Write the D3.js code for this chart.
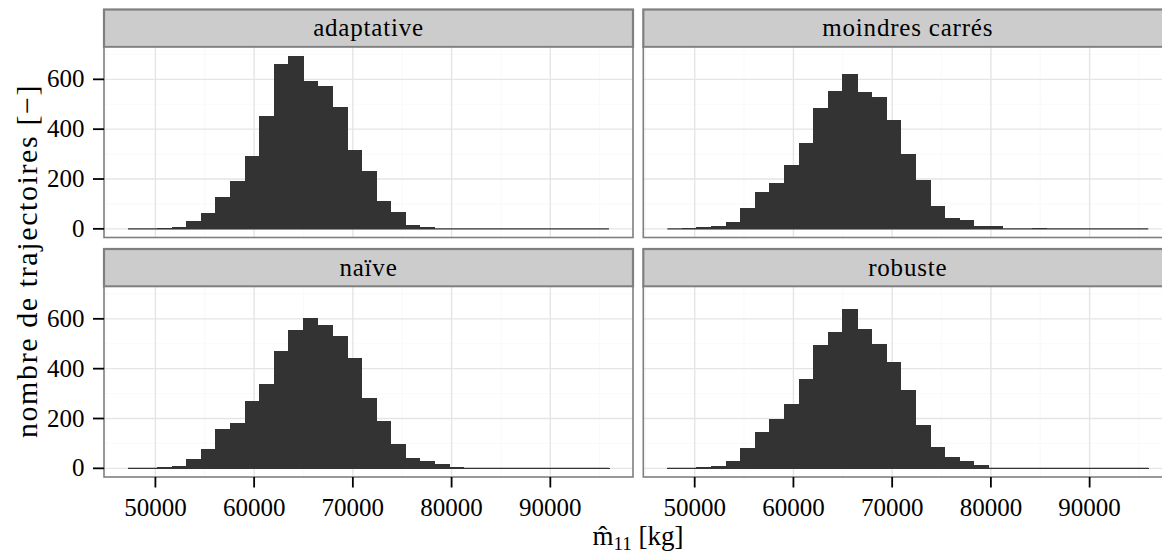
<!DOCTYPE html>
<html>
<head>
<meta charset="utf-8">
<script src="https://cdn.jsdelivr.net/npm/d3@7"></script>
<style>
  html, body { margin: 0; padding: 0; background: #fff; }
  svg { display: block; }
  text { font-family: "Liberation Serif", "DejaVu Serif", serif; fill: #000; }
</style>
</head>
<body>
<svg id="chart" width="1162" height="553"></svg>
<script>
// ---- data ----
const facets = ["adaptative", "moindres carrés", "naïve", "robuste"];
const binStart = 47230;
const binWidth = 1476;
const countsAdaptative = [0,0,4,8,32,64,129,193,293,454,663,695,595,575,490,318,233,113,68,16,8,0,0,0,0,0,0,0,0,0,0,0,0];
const countsMoindres   = [0,2,7,12,28,83,149,185,257,346,486,555,620,551,530,438,301,197,92,44,36,12,12,0,0,4,0,0,0,0,0,0,0];
const countsNaive      = [0,0,5,9,37,78,158,182,271,339,472,556,604,576,532,443,283,190,99,42,29,17,5,0,0,0,0,0,0,0,0,0,0];
const countsRobuste    = [0,0,5,9,29,82,146,198,259,360,496,549,640,560,499,427,315,175,86,46,29,13,0,0,0,0,0,0,0,0,0,0,0];
const seriesCounts = [countsAdaptative, countsMoindres, countsNaive, countsRobuste];
const xTicks = [50000, 60000, 70000, 80000, 90000];
const xMinor = [45000, 55000, 65000, 75000, 85000, 95000];
const yTicks = [0, 200, 400, 600];
const yMinor = [100, 300, 500, 700];
const yTitle = "nombre de trajectoires [−]";

// ---- layout ----
const svg = d3.select("#chart");
const panelW = 529, panelH = 190.5, stripH = 37.5;
const colX = [104, 643.3];
const rowStripTop = [9.5, 249];

const nBins = countsAdaptative.length;
const binEnd = binStart + nBins * binWidth;
const pad = (binEnd - binStart) * 0.05;
const yMax = d3.max(seriesCounts.flat());

const x = d3.scaleLinear().domain([binStart - pad, binEnd + pad]).range([0, panelW]);
const y = d3.scaleLinear().domain([-yMax * 0.05, yMax * 1.05]).range([panelH, 0]);

svg.append("defs").append("clipPath").attr("id", "pclip")
  .append("rect").attr("width", panelW).attr("height", panelH);

facets.forEach((name, i) => {
  const col = i % 2, row = Math.floor(i / 2);
  const px = colX[col], sTop = rowStripTop[row], pTop = sTop + stripH;
  const counts = seriesCounts[i];

  // strip
  const sg = svg.append("g").attr("transform", `translate(${px},${sTop})`);
  sg.append("rect").attr("width", panelW).attr("height", stripH)
    .attr("fill", "#CCCCCC").attr("stroke", "#7F7F7F").attr("stroke-width", 2.2);
  sg.append("text").attr("x", panelW / 2).attr("y", stripH / 2 + 8)
    .attr("text-anchor", "middle").attr("font-size", 25).attr("letter-spacing", 0.8).text(name);

  // panel
  const g = svg.append("g").attr("transform", `translate(${px},${pTop})`);
  g.append("rect").attr("width", panelW).attr("height", panelH).attr("fill", "#fff");
  const grid = g.append("g").attr("clip-path", "url(#pclip)");
  grid.selectAll(".xminor").data(xMinor).join("line")
    .attr("x1", d => x(d)).attr("x2", d => x(d)).attr("y1", 0).attr("y2", panelH)
    .attr("stroke", "#FAFAFA").attr("stroke-width", 1.2);
  grid.selectAll(".yminor").data(yMinor).join("line")
    .attr("y1", d => y(d)).attr("y2", d => y(d)).attr("x1", 0).attr("x2", panelW)
    .attr("stroke", "#FAFAFA").attr("stroke-width", 1.2);
  grid.selectAll(".xmajor").data(xTicks).join("line")
    .attr("x1", d => x(d)).attr("x2", d => x(d)).attr("y1", 0).attr("y2", panelH)
    .attr("stroke", "#E5E5E5").attr("stroke-width", 1.4);
  grid.selectAll(".ymajor").data(yTicks).join("line")
    .attr("y1", d => y(d)).attr("y2", d => y(d)).attr("x1", 0).attr("x2", panelW)
    .attr("stroke", "#E5E5E5").attr("stroke-width", 1.4);

  // bars
  const bars = counts.map((c, k) => ({ x0: binStart + k * binWidth, x1: binStart + (k + 1) * binWidth, c }));
  grid.append("line")
    .attr("x1", x(binStart)).attr("x2", x(binEnd))
    .attr("y1", y(0)).attr("y2", y(0))
    .attr("stroke", "#333333").attr("stroke-width", 1.2);
  grid.selectAll(".bar").data(bars).join("rect")
    .attr("x", d => x(d.x0)).attr("width", d => x(d.x1) - x(d.x0) + 0.9)
    .attr("y", d => y(d.c)).attr("height", d => y(0) - y(d.c) + 0.6)
    .attr("fill", "#333333").attr("shape-rendering", "crispEdges");

  g.append("rect").attr("width", panelW).attr("height", panelH)
    .attr("fill", "none").attr("stroke", "#7F7F7F").attr("stroke-width", 1.6);

  // y axis on left column
  if (col === 0) {
    const ya = svg.append("g").attr("transform", `translate(${px},${pTop})`);
    ya.selectAll("line").data(yTicks).join("line")
      .attr("x1", -11).attr("x2", 0).attr("y1", d => y(d)).attr("y2", d => y(d))
      .attr("stroke", "#000").attr("stroke-width", 1.8);
    ya.selectAll("text").data(yTicks).join("text")
      .attr("x", -19.5).attr("y", d => y(d) + 8).attr("text-anchor", "end")
      .attr("font-size", 25).text(d => d);
  }
  // x axis on bottom row
  if (row === 1) {
    const xa = svg.append("g").attr("transform", `translate(${px},${pTop + panelH})`);
    xa.selectAll("line").data(xTicks).join("line")
      .attr("x1", d => x(d)).attr("x2", d => x(d)).attr("y1", 0).attr("y2", 10.5)
      .attr("stroke", "#000").attr("stroke-width", 1.8);
    xa.selectAll("text").data(xTicks).join("text")
      .attr("x", d => x(d)).attr("y", 39).attr("text-anchor", "middle")
      .attr("font-size", 25).text(d => d);
  }
});

// axis titles
svg.append("text")
  .attr("transform", `translate(37,261) rotate(-90)`)
  .attr("text-anchor", "middle").attr("font-size", 30)
  .attr("letter-spacing", 1.6).text(yTitle);

const xt = svg.append("text").attr("x", 638).attr("y", 545).attr("text-anchor", "middle").attr("font-size", 27);
xt.append("tspan").text("m\u0302");
xt.append("tspan").attr("font-size", 19).attr("dy", 5).text("11");
xt.append("tspan").attr("dy", -5).text(" [kg]");
</script>
</body>
</html>
